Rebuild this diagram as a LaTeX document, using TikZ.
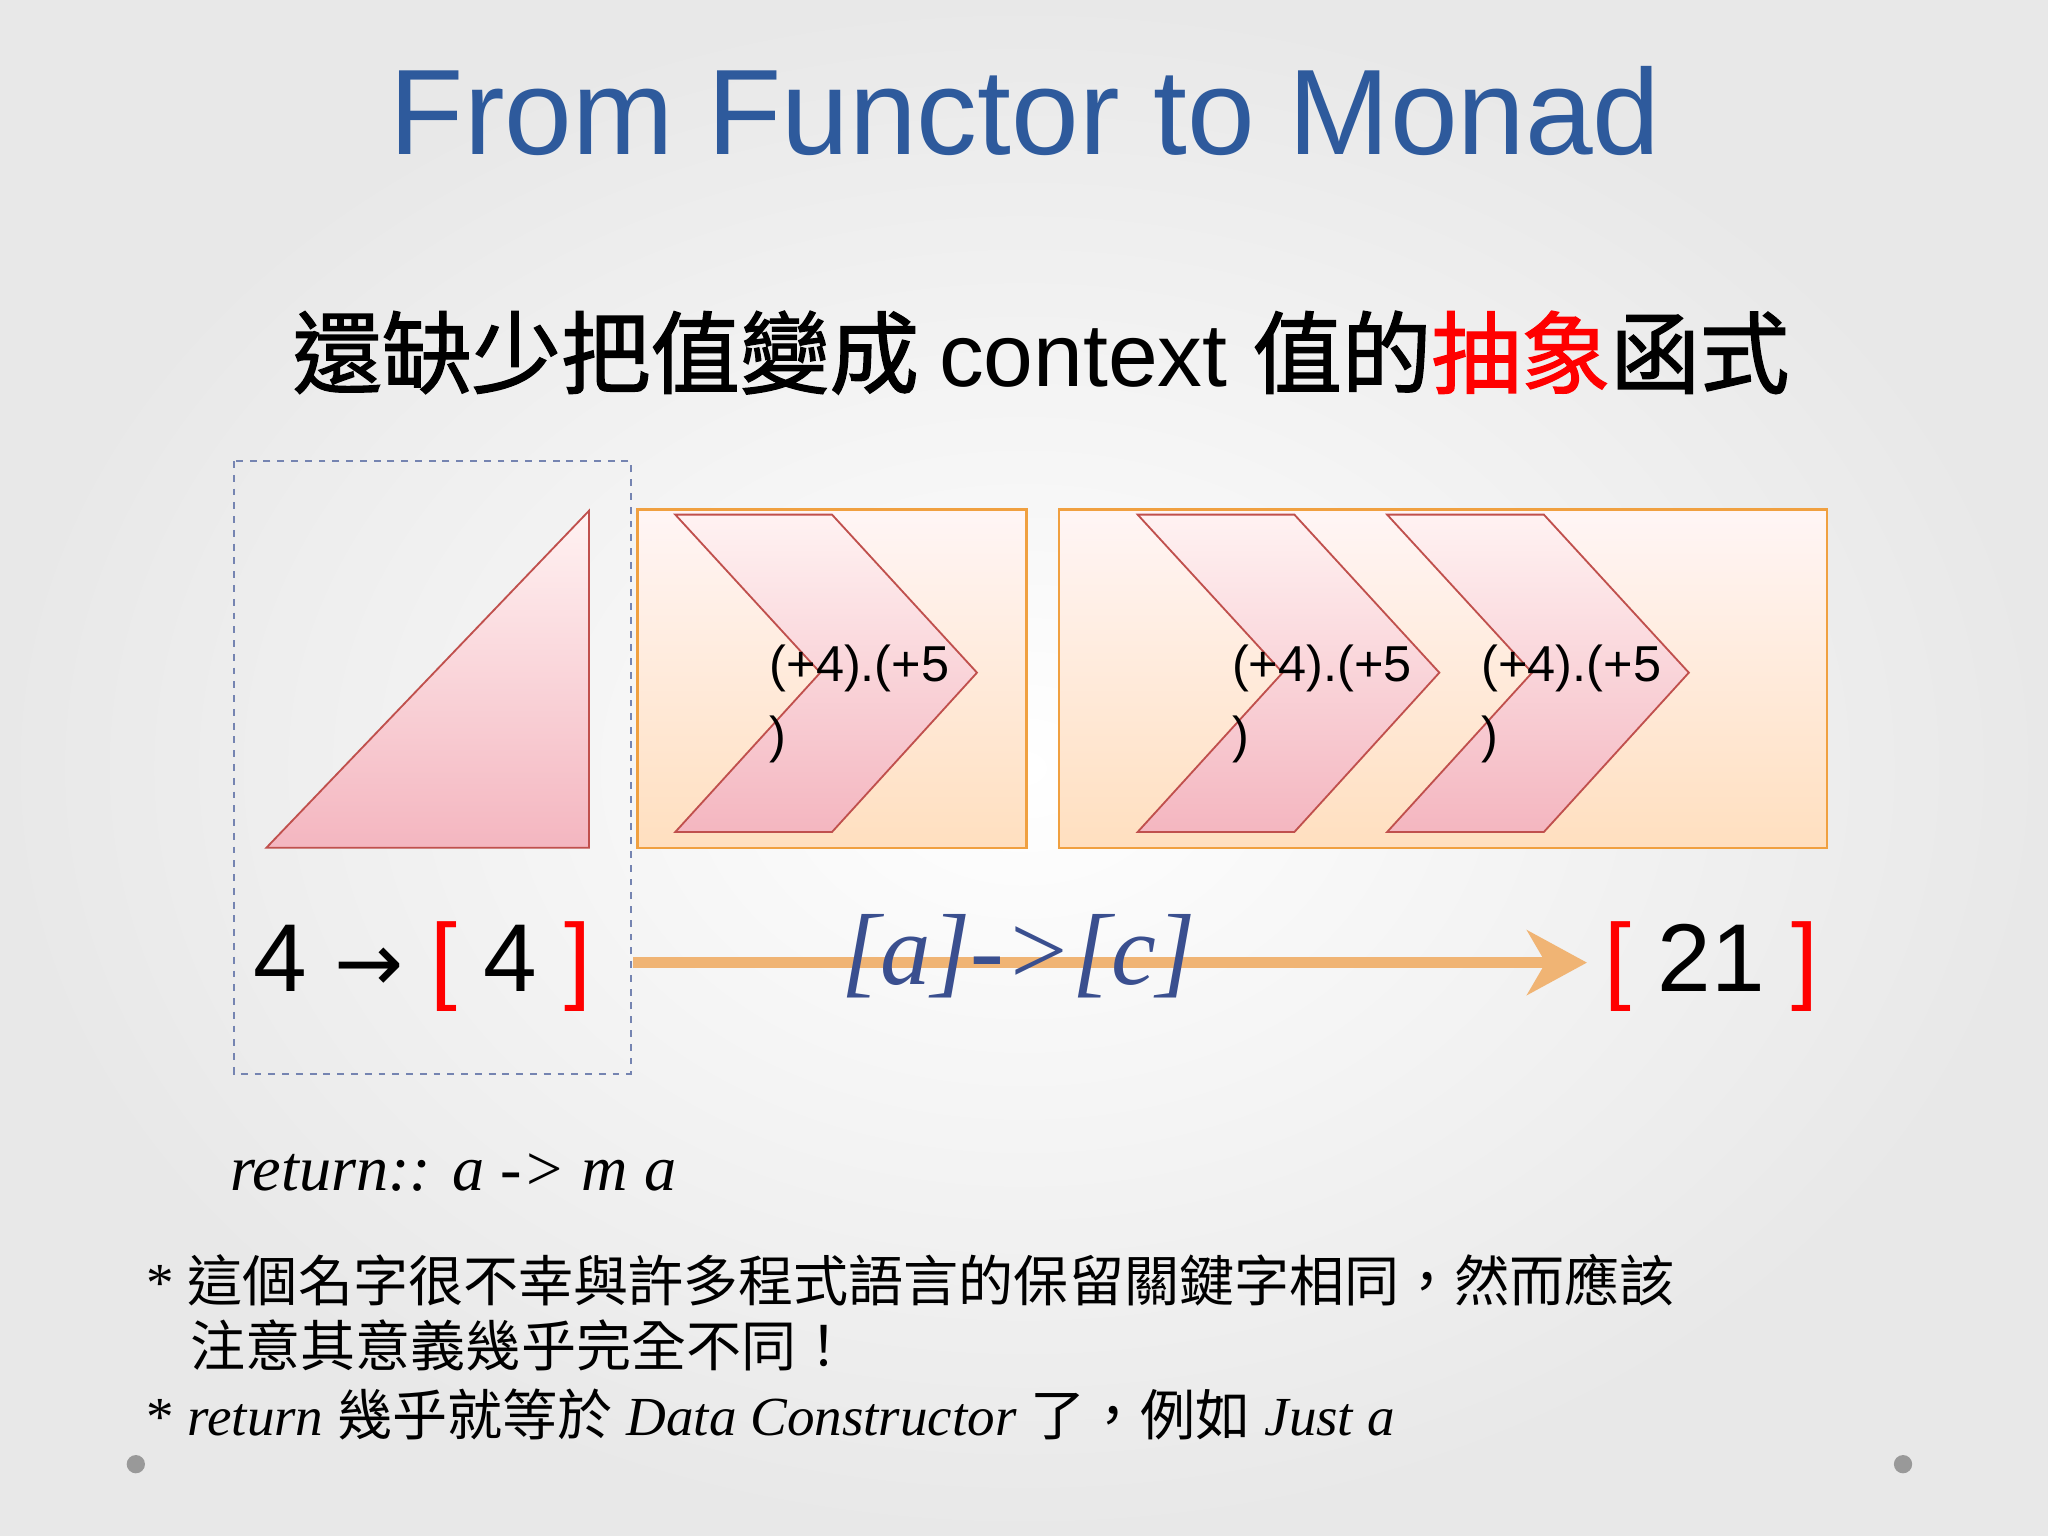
\documentclass[tikz,border=0pt]{standalone}
\usetikzlibrary{arrows.meta}
\usepackage{fontspec}
\setmainfont{Liberation Serif}
\setsansfont{Liberation Sans}
\newfontfamily\cjk{Noto Sans CJK TC}
\newfontfamily\cjkb[FakeBold=1.5]{Noto Sans CJK TC}
\newfontfamily\djv{DejaVu Sans}
\definecolor{titleblue}{HTML}{2E5A9C}
\definecolor{boxorange}{HTML}{F0A040}
\definecolor{pinkfill}{HTML}{F4B6C0}
\definecolor{pinkline}{HTML}{C0504D}
\definecolor{arrowor}{HTML}{F0B474}
\definecolor{mathblue}{HTML}{3A4F8F}
\tikzset{
  obox/.style={draw=boxorange, line width=1pt, top color=pink!15, bottom color=orange!25},
  chev/.style={draw=pinkline, line width=0.8pt, top color=pink!20, bottom color=pinkfill},
  chtext/.style={font=\sffamily\fontsize{22}{26}\selectfont, anchor=west, inner sep=0},
  big/.style={font=\sffamily\fontsize{42}{50}\selectfont, inner sep=0},
}
\begin{document}
\begin{tikzpicture}[x=0.02cm,y=-0.02cm]
\useasboundingbox (0,0) rectangle (1568,1176);
\shade[inner color=white, outer color=gray!18] (0,0) rectangle (1568,1176);
\node[font=\sffamily\fontsize{53}{60}\selectfont, text=titleblue] (title) at (785,85) {From Functor to Monad};
\node[font=\fontsize{39}{44}\selectfont] (sub) at (797,270) {\cjkb 還缺少把值變成 \sffamily context \cjkb 值的\textcolor{red}{抽象}函式};
\draw[draw=mathblue!70, dashed, line width=0.8pt] (179,353) rectangle (483,822);
\draw[chev] (204,649) -- (451,391) -- (451,649) -- cycle;
\draw[obox] (488,390) rectangle (786,649);
\draw[obox] (811,390) rectangle (1399,649);
\foreach \x in {517,871,1062}{
  \draw[chev] (\x,394) -- (\x+120,394) -- (\x+231,515) -- (\x+120,637) -- (\x,637) -- (\x+111,515) -- cycle;
  \node[chtext] at (\x+72,512) {(+4).(+5};
  \node[chtext] at (\x+72,566) {)};
}
\node[big, anchor=west] (four) at (194,740) {4 {\djv\fontsize{36}{40}\selectfont →} \textcolor{red}{[} 4 \textcolor{red}{]}};
\node[big, anchor=west] (res) at (1228,740) {\textcolor{red}{[} 21 \textcolor{red}{]}};
\coordinate (as) at (485,737);
\coordinate (ae) at (1215,737);
\draw[arrowor, line width=5pt, -{Stealth[length=26pt,width=28pt,inset=8pt]}] (as) -- (ae);
\node[text=mathblue, font=\itshape\fontsize{44}{50}\selectfont] (sig) at (780,732) {[a]->[c]};
\node[font=\itshape\fontsize{28}{34}\selectfont, anchor=west] (ret) at (170,898) {return:: a -> m a};
\node[anchor=west, font=\fontsize{24}{30}\selectfont, align=left] (b1) at (106,1005) {* {\cjk 這個名字很不幸與許多程式語言的保留關鍵字相同，然而應該}\\[-2pt]\hspace*{0.8em}{\cjk 注意其意義幾乎完全不同！}};
\node[anchor=west, font=\fontsize{24}{30}\selectfont] (b2) at (106,1083) {* \textit{return} {\cjk 幾乎就等於} \textit{Data Constructor} {\cjk 了，例如} \textit{Just a}};
\fill[gray!80] (104,1121) circle (7);
\fill[gray!80] (1457,1121) circle (7);
\end{tikzpicture}
\end{document}
